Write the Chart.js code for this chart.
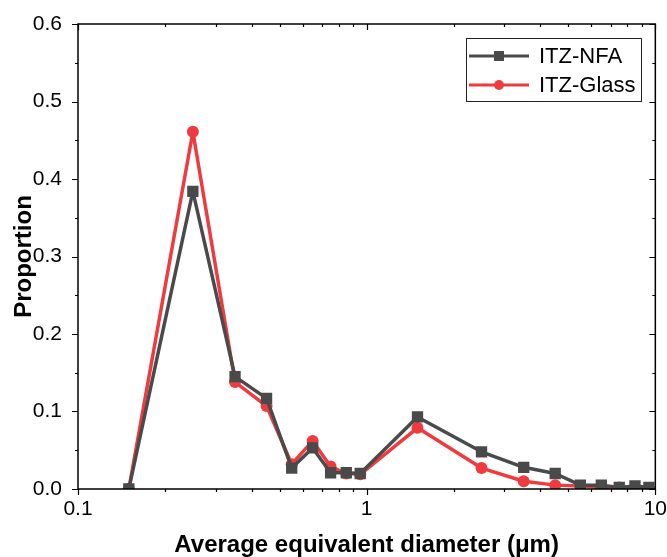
<!DOCTYPE html>
<html lang="en">
<head>
    <meta charset="UTF-8">
    <script src="https://cdn.jsdelivr.net/npm/chart.js"></script>
    <title>Proportion vs diameter</title>
    <style>
        body { margin: 0; background: #fff; }
        #wrap { width: 667px; height: 557px; }
    </style>
</head>
<body>
    <div id="wrap"><canvas id="sizeChart"></canvas></div>
    <script>
        // data
        const diameters = [0.15, 0.25, 0.35, 0.45, 0.55, 0.65, 0.75, 0.85, 0.95, 1.5, 2.5, 3.5, 4.5, 5.5, 6.5, 7.5, 8.5, 9.5];
        const nfaValues = [0, 0.384, 0.145, 0.117, 0.027, 0.053, 0.021, 0.021, 0.02, 0.093, 0.048, 0.028, 0.02, 0.005, 0.005, 0.002, 0.004, 0.002];
        const glassValues = [0, 0.461, 0.138, 0.107, 0.032, 0.062, 0.029, 0.02, 0.019, 0.079, 0.027, 0.01, 0.005, 0.004, 0.002, 0.002, 0.002, 0.001];
        const yTicks = [0, 0.1, 0.2, 0.3, 0.4, 0.5, 0.6];
        const xLabels = [0.1, 1, 10];

        const NFA_COLOR = '#4a4a4a';
        const GLASS_COLOR = '#ef3b3f';
        const FONT = '"Liberation Sans", Arial, sans-serif';

        function toPoints(vals) {
            return diameters.map((d, i) => ({ x: d, y: vals[i] }));
        }

        // frame, ticks and legend drawn like the Origin plot
        const framePlugin = {
            id: 'frame',
            afterDraw(chart) {
                const { ctx, chartArea: a, scales } = chart;
                const xs = scales.x, ys = scales.y;
                ctx.save();
                ctx.strokeStyle = '#000';
                ctx.lineWidth = 1.5;
                ctx.strokeRect(a.left, a.top, a.right - a.left, a.bottom - a.top);

                ctx.lineWidth = 1.2;
                ctx.beginPath();
                // y ticks: major every 0.1, minor every 0.05
                for (let v = 0; v <= 0.6001; v += 0.05) {
                    const py = Math.round(ys.getPixelForValue(v)) + 0.5;
                    const major = Math.abs(v * 10 - Math.round(v * 10)) < 1e-6;
                    const len = major ? 6 : 3;
                    ctx.moveTo(a.left - len, py); ctx.lineTo(a.left, py);
                    ctx.moveTo(a.right, py); ctx.lineTo(a.right - len, py);
                }
                // x ticks on log scale
                for (let dec = 0.1; dec < 10; dec *= 10) {
                    for (let m = 1; m <= 10; m++) {
                        const v = dec * m;
                        if (v > 10.0001) break;
                        const px = Math.round(xs.getPixelForValue(v)) + 0.5;
                        const major = (m === 1 || m === 10);
                        const len = major ? 6 : 3;
                        ctx.moveTo(px, a.bottom); ctx.lineTo(px, a.bottom + len);
                        ctx.moveTo(px, a.top); ctx.lineTo(px, a.top + len);
                    }
                }
                ctx.stroke();

                // legend
                const lx = 466, ly = 38, lw = 175, lh = 63;
                ctx.fillStyle = '#fff';
                ctx.fillRect(lx, ly, lw, lh);
                ctx.strokeStyle = '#222';
                ctx.lineWidth = 1;
                ctx.strokeRect(lx + 0.5, ly + 0.5, lw, lh);
                const rows = [
                    { label: 'ITZ-NFA', color: NFA_COLOR, shape: 'rect' },
                    { label: 'ITZ-Glass', color: GLASS_COLOR, shape: 'circle' }
                ];
                rows.forEach((r, i) => {
                    const cy = ly + 18 + i * 29;
                    ctx.strokeStyle = r.color;
                    ctx.lineWidth = 3;
                    ctx.beginPath();
                    ctx.moveTo(lx + 3, cy); ctx.lineTo(lx + 63, cy);
                    ctx.stroke();
                    ctx.fillStyle = r.color;
                    if (r.shape === 'rect') {
                        ctx.fillRect(lx + 33 - 5, cy - 5, 10, 10);
                    } else {
                        ctx.beginPath();
                        ctx.arc(lx + 33, cy, 5, 0, Math.PI * 2);
                        ctx.fill();
                    }
                    ctx.fillStyle = '#000';
                    ctx.font = '22px ' + FONT;
                    ctx.textBaseline = 'middle';
                    ctx.textAlign = 'left';
                    ctx.fillText(r.label, lx + 73, cy + 1);
                });
                ctx.restore();
            }
        };

        const ctx = document.getElementById('sizeChart').getContext('2d');
        new Chart(ctx, {
            type: 'line',
            data: {
                datasets: [
                    {
                        label: 'ITZ-NFA',
                        data: toPoints(nfaValues),
                        borderColor: NFA_COLOR,
                        backgroundColor: NFA_COLOR,
                        borderWidth: 3.5,
                        borderJoinStyle: 'round',
                        pointStyle: 'rect',
                        pointRadius: 8,
                        pointBorderWidth: 0,
                        tension: 0
                    },
                    {
                        label: 'ITZ-Glass',
                        data: toPoints(glassValues),
                        borderColor: GLASS_COLOR,
                        backgroundColor: GLASS_COLOR,
                        borderWidth: 3.5,
                        borderJoinStyle: 'round',
                        pointStyle: 'circle',
                        pointRadius: 6,
                        pointBorderWidth: 0,
                        tension: 0
                    }
                ]
            },
            options: {
                responsive: true,
                maintainAspectRatio: false,
                animation: false,
                layout: { padding: { top: 24, right: 11, left: 0, bottom: 0 } },
                scales: {
                    x: {
                        type: 'logarithmic',
                        min: 0.1,
                        max: 10,
                        grid: { display: false },
                        border: { display: false },
                        afterFit(scale) { scale.height = 68; },
                        afterBuildTicks(scale) {
                            scale.ticks = xLabels.map(v => ({ value: v }));
                        },
                        ticks: {
                            autoSkip: false,
                            maxRotation: 0,
                            padding: 0,
                            color: '#000',
                            font: { family: FONT, size: 21 },
                            callback: v => String(v)
                        },
                        title: {
                            display: true,
                            text: 'Average equivalent diameter (μm)',
                            color: '#000',
                            padding: { top: 0, bottom: -3 },
                            font: { family: FONT, size: 24, weight: 'bold' }
                        }
                    },
                    y: {
                        min: 0,
                        max: 0.6,
                        grid: { display: false },
                        border: { display: false },
                        afterFit(scale) { scale.width = 78; },
                        afterBuildTicks(scale) {
                            scale.ticks = yTicks.map(v => ({ value: v }));
                        },
                        ticks: {
                            padding: 8,
                            color: '#000',
                            font: { family: FONT, size: 21 },
                            callback: v => v.toFixed(1)
                        },
                        title: {
                            display: true,
                            text: 'Proportion',
                            color: '#000',
                            padding: { top: 10, bottom: 0 },
                            font: { family: FONT, size: 24, weight: 'bold' }
                        }
                    }
                },
                plugins: {
                    legend: { display: false },
                    tooltip: { enabled: false }
                }
            },
            plugins: [framePlugin]
        });
    </script>
</body>
</html>
